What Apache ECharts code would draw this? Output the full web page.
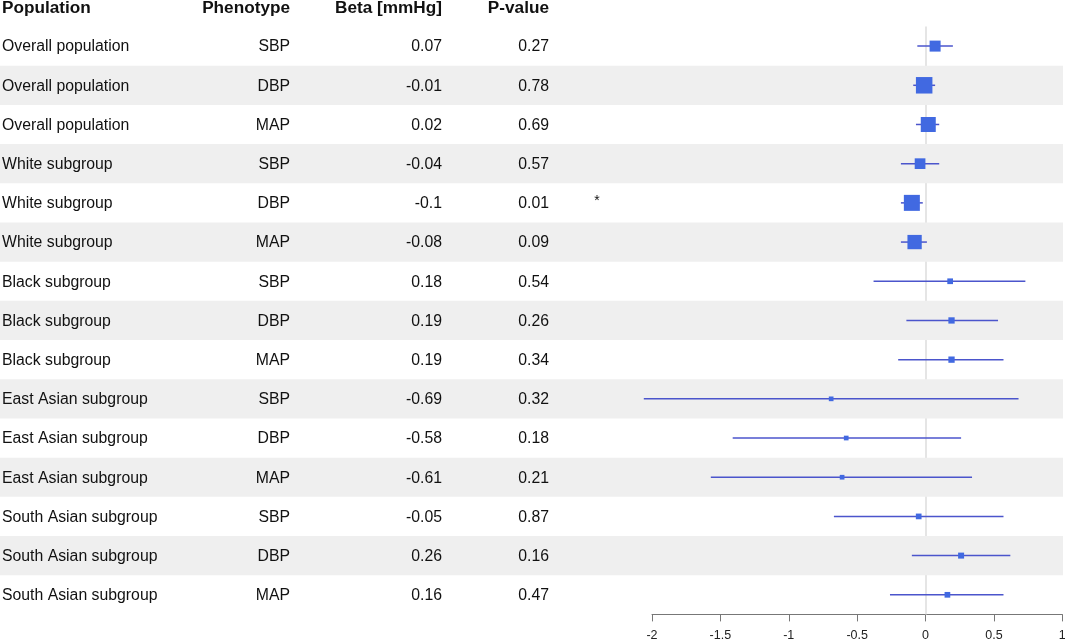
<!DOCTYPE html>
<html>
<head>
<meta charset="utf-8">
<script src="https://cdn.jsdelivr.net/npm/echarts@6/dist/echarts.min.js"></script>
<style>
html,body{margin:0;padding:0;background:#fff;overflow:hidden;}
#chart{width:1065px;height:642px;}
</style>
</head>
<body>
<div id="chart"></div>
<script>
// ---- data ----
var headers = ['Population', 'Phenotype', 'Beta [mmHg]', 'P-value'];
var populations = [
  'Overall population','Overall population','Overall population',
  'White subgroup','White subgroup','White subgroup',
  'Black subgroup','Black subgroup','Black subgroup',
  'East Asian subgroup','East Asian subgroup','East Asian subgroup',
  'South Asian subgroup','South Asian subgroup','South Asian subgroup'
];
var phenotypes = ['SBP','DBP','MAP','SBP','DBP','MAP','SBP','DBP','MAP','SBP','DBP','MAP','SBP','DBP','MAP'];
var betas = [0.07, -0.01, 0.02, -0.04, -0.1, -0.08, 0.18, 0.19, 0.19, -0.69, -0.58, -0.61, -0.05, 0.26, 0.16];
var pvalues = ['0.27','0.78','0.69','0.57','0.01','0.09','0.54','0.26','0.34','0.32','0.18','0.21','0.87','0.16','0.47'];
var ciLower = [-0.06, -0.09, -0.07, -0.18, -0.18, -0.18, -0.38, -0.14, -0.20, -2.06, -1.41, -1.57, -0.67, -0.10, -0.26];
var ciUpper = [0.20, 0.07, 0.10, 0.10, -0.02, 0.01, 0.73, 0.53, 0.57, 0.68, 0.26, 0.34, 0.57, 0.62, 0.57];
var boxWeight = [11, 16.5, 15, 10.7, 16, 14.3, 5.7, 6.3, 6.3, 4.7, 4.7, 4.7, 5.7, 6, 5.7];
var signif = ['', '', '', '', '*', '', '', '', '', '', '', '', '', '', ''];
var xTicks = [-2, -1.5, -1, -0.5, 0, 0.5, 1];

// ---- style ----
var FONT = '"Liberation Sans", Arial, Helvetica, sans-serif';
var TXT = '#111';
var rowIdx = populations.map(function (_, i) { return i; });
var colX = { pop: 2, phen: 290, beta: 442, p: 549, sig: 597 };

var chart = echarts.init(document.getElementById('chart'));

var tableData = rowIdx.map(function (i) {
  return [0, i, populations[i], phenotypes[i], String(betas[i]), pvalues[i], signif[i]];
});
var forestData = rowIdx.map(function (i) {
  return [betas[i], i, ciLower[i], ciUpper[i], boxWeight[i]];
});

var option = {
  animation: false,
  backgroundColor: '#fff',
  grid: [
    { left: 0, right: 2, top: 26.5, bottom: 27.6, outerBoundsMode: 'none', containLabel: false },
    { left: 652, right: 2.7, top: 26.5, bottom: 27.6, outerBoundsMode: 'none', containLabel: false }
  ],
  xAxis: [
    { gridIndex: 0, type: 'value', min: 0, max: 1, show: false },
    {
      gridIndex: 1, type: 'value', min: -2, max: 1, interval: 0.5,
      axisLine: { show: true, onZero: false, lineStyle: { color: '#777', width: 1 } },
      axisTick: { show: true, length: 7, inside: false, lineStyle: { color: '#777' } },
      splitLine: { show: false },
      axisLabel: { color: '#222', fontSize: 12.5, fontFamily: FONT, margin: 15, hideOverlap: false,
        showMinLabel: true, showMaxLabel: true,
        formatter: function (v) { return xTicks.indexOf(v) >= 0 ? String(v) : ''; } }
    }
  ],
  yAxis: [
    { gridIndex: 0, type: 'category', data: rowIdx, inverse: true, show: false },
    { gridIndex: 1, type: 'category', data: rowIdx, inverse: true, show: false }
  ],
  series: [
    {
      type: 'custom',
      xAxisIndex: 0, yAxisIndex: 0,
      silent: true,
      clip: false,
      data: tableData,
      renderItem: function (params, api) {
        var i = api.value(1);
        var c = api.coord([0, i]);
        var h = api.size([0, 1])[1];
        var cs = params.coordSys;
        var children = [];
        if (i % 2 === 1) {
          children.push({ type: 'rect', shape: { x: cs.x, y: c[1] - h / 2, width: cs.width, height: h },
            style: { fill: '#efefef' } });
        }
        function t(x, s, align) {
          children.push({ type: 'text', style: { x: x, y: c[1] + 1, text: s, textAlign: align, textVerticalAlign: 'middle',
            font: '15.8px ' + FONT, fill: TXT } });
        }
        t(colX.pop, populations[i], 'left');
        t(colX.phen, phenotypes[i], 'right');
        t(colX.beta, String(betas[i]), 'right');
        t(colX.p, pvalues[i], 'right');
        if (signif[i]) {
          children.push({ type: 'text', style: { x: colX.sig, y: c[1] - 2, text: signif[i], textAlign: 'center', textVerticalAlign: 'middle',
            font: '14px ' + FONT, fill: TXT } });
        }
        return { type: 'group', children: children };
      }
    },
    {
      type: 'custom',
      xAxisIndex: 1, yAxisIndex: 1,
      silent: true,
      clip: false,
      z: 5,
      data: forestData,
      renderItem: function (params, api) {
        var i = api.value(1);
        var p = api.coord([api.value(0), i]);
        var lo = api.coord([api.value(2), i]);
        var hi = api.coord([api.value(3), i]);
        var s = api.value(4);
        return { type: 'group', children: [
          { type: 'line', shape: { x1: lo[0], y1: p[1], x2: hi[0], y2: p[1] },
            style: { stroke: '#4b55cc', lineWidth: 1.5 } },
          { type: 'rect', shape: { x: p[0] - s / 2, y: p[1] - s / 2, width: s, height: s },
            style: { fill: '#4169e1' } }
        ] };
      },
      markLine: {
        silent: true,
        symbol: ['none', 'none'],
        label: { show: false },
        lineStyle: { color: '#dcdcdc', width: 1.5, type: 'solid' },
        data: [{ xAxis: 0 }],
        z: 1
      }
    }
  ],
  graphic: headers.map(function (h, k) {
    var xs = [colX.pop, colX.phen, colX.beta, colX.p];
    return { type: 'text', x: xs[k], y: 8.5, silent: true,
      style: { text: h, textAlign: k === 0 ? 'left' : 'right', textVerticalAlign: 'middle',
        font: 'bold 17.2px ' + FONT, fill: TXT } };
  })
};
chart.setOption(option);
</script>
</body>
</html>
